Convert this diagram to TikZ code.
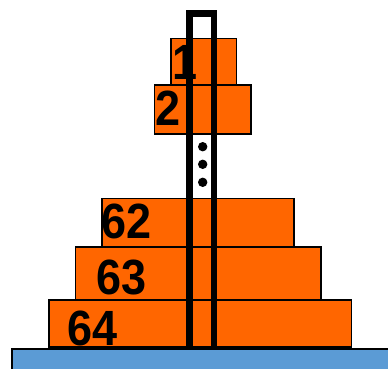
\documentclass[tikz,border=0pt]{standalone}
\usepackage{fontspec}
\setmainfont{Liberation Sans}
\definecolor{diskorange}{HTML}{FF6600}
\definecolor{baseblue}{HTML}{5B9BD5}
\tikzset{
  disk/.style={draw=black, line width=1.6pt, fill=diskorange},
  disklabel/.style={anchor=base, inner sep=0pt, font=\fontsize{45}{45}\selectfont\bfseries, yscale=1.1},
  pegline/.style={draw=black, line width=6.5pt},
  basebox/.style={draw=black, line width=2pt, fill=baseblue},
  dot/.style={fill=black}
}
\begin{document}
\begin{tikzpicture}[x=1pt, y=-1pt]
\useasboundingbox (0,0) rectangle (388,369);
% disks
\draw[disk] (171,38.5) rectangle (236.5,85);
\draw[disk] (154.5,85) rectangle (251,134);
\draw[disk] (101.7,198.5) rectangle (294,247);
\draw[disk] (75.5,247) rectangle (320.7,300);
\draw[disk] (48.7,300) rectangle (351.3,347);
% labels
\node[disklabel] (l1) at (185,79) {1};
\node[disklabel] (l2) at (168.5,125) {2};
\node[disklabel] (l62) at (127,238) {62};
\node[disklabel] (l63) at (122,294) {63};
\node[disklabel] (l64) at (93,345) {64};
% peg
\draw[pegline] (189.7,13.3) rectangle (213.8,350);
% dots
\fill[dot] (202.7,146.7) circle (4.7);
\fill[dot] (202.7,164.3) circle (4.7);
\fill[dot] (202.7,182.3) circle (4.7);
% base
\draw[basebox] (12,349) rectangle (395,375);
\end{tikzpicture}
\end{document}
